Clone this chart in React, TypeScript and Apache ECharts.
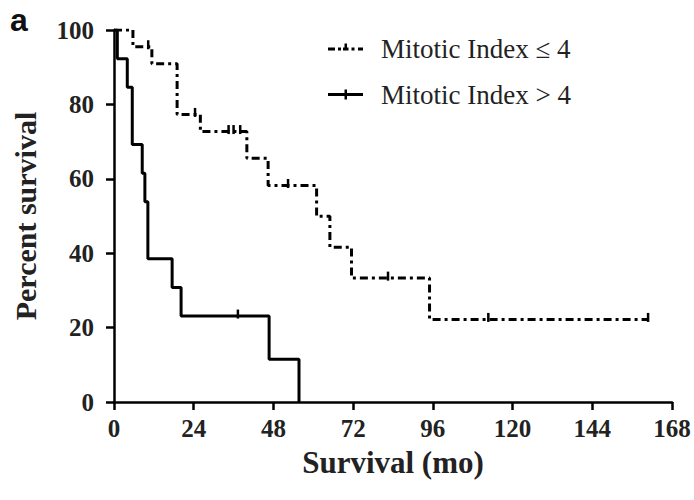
import React, { useEffect, useRef } from "react";
import * as echarts from "echarts";

// Mitotic Index <= 4 (dash-dot curve)
const lowTimes = [0, 5.7, 10.3, 11.4, 19, 24.4, 26, 34.5, 36, 38, 40, 46.4, 52.4, 61, 65, 71.5, 82.5, 95, 112.7, 160.8];
const lowSurvival = [100, 95.5, 95.5, 90.9, 77.3, 77.3, 72.7, 72.7, 72.7, 72.7, 65.5, 58.2, 58.2, 49.9, 41.6, 33.3, 33.3, 22.2, 22.2, 22.2];
const lowCensored = [0, 0, 1, 0, 0, 1, 0, 1, 1, 1, 0, 0, 1, 0, 0, 0, 1, 0, 1, 1];

// Mitotic Index > 4 (solid curve)
const highTimes = [0, 1, 4, 5.5, 8.5, 9.3, 10.2, 17.5, 20.2, 37.3, 46.7, 55.7];
const highSurvival = [100, 92.3, 84.6, 69.2, 61.5, 53.8, 38.5, 30.8, 23.1, 23.1, 11.5, 0];
const highCensored = [0, 0, 0, 0, 0, 0, 0, 0, 0, 1, 0, 0];

const xTicks = [0, 24, 48, 72, 96, 120, 144, 168];
const seriesNames = ["Mitotic Index \u2264 4", "Mitotic Index > 4"];

const SERIF = "'Liberation Serif', 'Times New Roman', serif";

const dashIcon =
  "path://M0,4L7,4L7,7L0,7Z M10,4L13,4L13,7L10,7Z M15,4L16.5,4L16.5,7L15,7Z M16.5,0L19,0L19,7L16.5,7Z M19,4L20.5,4L20.5,7L19,7Z M23.5,4L26.5,4L26.5,7L23.5,7Z M30,4L35,4L35,7L30,7Z M34,9.9L34.1,9.9L34.1,10L34,10Z";
const solidIcon = "path://M0,3.5L35,3.5L35,6.5L0,6.5Z M16.5,0L19,0L19,10L16.5,10Z";

function buildData(times: number[], surv: number[], cens: number[]) {
  return times.map((t, i) =>
    cens[i]
      ? { value: [t, surv[i]], symbol: "rect", symbolSize: [2.5, 9], symbolOffset: [0, -2] }
      : { value: [t, surv[i]], symbol: "none" }
  );
}

export default function App() {
  const ref = useRef<HTMLDivElement>(null);
  useEffect(() => {
    if (!ref.current) return;
    const chart = echarts.init(ref.current, undefined, { renderer: "svg" });
    const axisLineStyle = { color: "#000", width: 2.5 };
    chart.setOption({
      animation: false,
      backgroundColor: "#fff",
      grid: { left: 114, right: 22, top: 30, bottom: 98, containLabel: false },
      graphic: [
        {
          type: "text",
          left: 10,
          top: 4,
          style: { text: "a", font: "bold 32px 'Liberation Sans', Arial, sans-serif", fill: "#111" },
        },
      ],
      legend: {
        orient: "vertical",
        left: 328,
        top: 35,
        itemWidth: 35,
        itemHeight: 10,
        itemGap: 19,
        padding: 0,
        data: [
          { name: seriesNames[0], icon: dashIcon },
          { name: seriesNames[1], icon: solidIcon },
        ],
        textStyle: { fontFamily: SERIF, fontSize: 27, color: "#222", padding: [0, 0, 0, 13] },
      },
      xAxis: {
        type: "value",
        min: 0,
        max: 168,
        interval: 24,
        name: "Survival (mo)",
        nameLocation: "middle",
        nameGap: 45,
        nameTextStyle: { fontFamily: SERIF, fontSize: 31, fontWeight: "bold", color: "#222" },
        axisLine: { show: true, lineStyle: axisLineStyle },
        axisTick: { show: true, length: 8, lineStyle: axisLineStyle },
        axisLabel: {
          fontFamily: SERIF,
          fontSize: 25,
          fontWeight: "bold",
          color: "#222",
          margin: 14,
          customValues: xTicks,
        },
        splitLine: { show: false },
      },
      yAxis: {
        type: "value",
        min: 0,
        max: 100,
        interval: 20,
        name: "Percent survival",
        nameLocation: "middle",
        nameGap: 74,
        nameTextStyle: { fontFamily: SERIF, fontSize: 30, fontWeight: "bold", color: "#222" },
        axisLine: { show: true, lineStyle: axisLineStyle },
        axisTick: { show: true, length: 8, lineStyle: axisLineStyle },
        axisLabel: { fontFamily: SERIF, fontSize: 25, fontWeight: "bold", color: "#222", margin: 20 },
        splitLine: { show: false },
      },
      series: [
        {
          name: seriesNames[0],
          type: "line",
          step: "end",
          showSymbol: true,
          symbol: "rect",
          symbolSize: [2.5, 10],
          itemStyle: { color: "#000" },
          lineStyle: { color: "#000", width: 3, type: [8, 4, 3, 4] },
          data: buildData(lowTimes, lowSurvival, lowCensored),
          z: 3,
        },
        {
          name: seriesNames[1],
          type: "line",
          step: "end",
          showSymbol: true,
          symbol: "rect",
          symbolSize: [2.5, 10],
          itemStyle: { color: "#000" },
          lineStyle: { color: "#000", width: 3, type: "solid" },
          data: buildData(highTimes, highSurvival, highCensored),
          z: 4,
        },
      ],
    });
    return () => chart.dispose();
  }, []);
  return <div ref={ref} style={{ width: 694, height: 500, position: "absolute", left: 0, top: 0 }} />;
}
